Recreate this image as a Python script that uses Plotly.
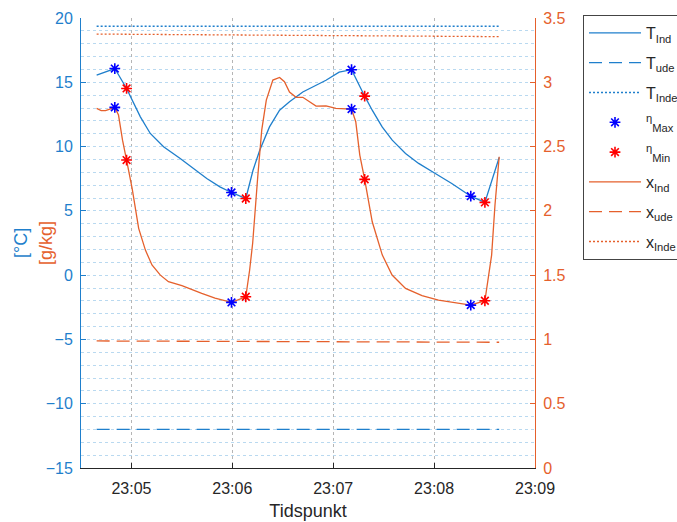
import pandas as pd
import plotly.graph_objects as go

# ---- data (time in seconds after 23:04:00) ----
t_T = [39.3, 44.6, 50.1, 57.1, 61.4, 65.3, 71.2, 79.1, 89.0, 96.8, 104.8, 112.6, 119.5,
       128.0, 132.3, 136.3, 142.1, 148.1, 154.0, 161.9, 167.8, 175.7, 183.5, 190.9,
       198.7, 203.2, 209.1, 215.1, 223.0, 230.8, 240.7, 250.5, 261.8, 270.2, 278.7]
T_ind = [15.55, 15.8, 16.07, 14.52, 13.35, 12.31, 11.02, 9.98, 9.07, 8.30, 7.52, 6.87, 6.43,
         5.96, 8.16, 9.72, 11.53, 12.83, 13.48, 14.25, 14.64, 15.16, 15.79, 15.98,
         13.92, 12.83, 11.53, 10.50, 9.46, 8.69, 7.91, 7.13, 6.14, 5.66, 9.15]

t_x = [39.3, 42.0, 44.6, 50.1, 52.3, 54.7, 57.1, 60.4, 64.3, 68.3, 72.2, 77.2, 82.0,
       90.0, 101.8, 109.7, 119.5, 128.0, 130.3, 132.1, 135.1, 137.5, 140.2, 144.1,
       148.1, 151.0, 154.0, 157.9, 161.9, 165.8, 169.8, 175.7, 181.6, 190.9, 193.4,
       195.8, 198.7, 203.2, 209.2, 215.0, 223.0, 232.8, 242.6, 261.8, 270.2, 274.2,
       276.2, 278.7]
x_ind = [2.797, 2.78, 2.78, 2.805, 2.745, 2.55, 2.395, 2.175, 1.864, 1.695, 1.579, 1.50,
         1.449, 1.418, 1.358, 1.322, 1.288, 1.332, 1.54, 1.75, 2.263, 2.63, 2.862, 3.017,
         3.038, 3.004, 2.924, 2.883, 2.883, 2.848, 2.815, 2.817, 2.797, 2.792, 2.693,
         2.434, 2.245, 1.915, 1.656, 1.501, 1.397, 1.34, 1.306, 1.267, 1.301, 1.656,
         2.045, 2.421]

t_ref = [39.3, 99.0, 159.0, 219.0, 278.7]
T_ude = [-12.0, -12.0, -12.0, -12.0, -12.0]
T_inde = [19.36, 19.36, 19.36, 19.36, 19.36]
x_ude = [0.988, 0.986, 0.983, 0.981, 0.978]
x_inde = [3.375, 3.370, 3.365, 3.360, 3.355]

eta_max_t = [50.1, 119.5, 190.9, 261.8]
eta_max_T = [16.07, 6.43, 15.98, 6.14]
eta_max_x = [2.805, 1.288, 2.792, 1.267]
eta_min_t = [57.1, 128.0, 198.7, 270.2]
eta_min_T = [14.52, 5.96, 13.92, 5.66]
eta_min_x = [2.395, 1.332, 2.245, 1.301]

x_tick_labels = ["23:05", "23:06", "23:07", "23:08", "23:09"]

base = pd.Timestamp("2021-03-01 23:04:00")
def ts(sec):
    return base + pd.to_timedelta(sec, unit="s")

BLUE = "#1f7fcc"
ORANGE = "#e5602c"
DARK = "#262626"
FONT = "Liberation Sans, Arial, sans-serif"

fig = go.Figure()
lw = 1.3
fig.add_trace(go.Scatter(x=ts(t_T), y=T_ind, mode="lines", name="T<sub>Ind</sub>",
                         line=dict(color=BLUE, width=lw), legendgroup="a"))
fig.add_trace(go.Scatter(x=ts(t_ref), y=T_ude, mode="lines", name="T<sub>ude</sub>",
                         line=dict(color=BLUE, width=lw, dash="13px,7px"), legendgroup="b"))
fig.add_trace(go.Scatter(x=ts(t_ref), y=T_inde, mode="lines", name="T<sub>Inde</sub>",
                         line=dict(color=BLUE, width=lw, dash="2px,2px"), legendgroup="c"))
star = dict(symbol="asterisk-open", size=9)
fig.add_trace(go.Scatter(x=ts(eta_max_t), y=eta_max_T, mode="markers",
                         name="<sup>η</sup><sub>Max</sub>",
                         marker=dict(**star, color="blue", line=dict(color="blue", width=1.6)),
                         legendgroup="d"))
fig.add_trace(go.Scatter(x=ts(eta_min_t), y=eta_min_T, mode="markers",
                         name="<sup>η</sup><sub>Min</sub>",
                         marker=dict(**star, color="red", line=dict(color="red", width=1.6)),
                         legendgroup="e"))
fig.add_trace(go.Scatter(x=ts(t_x), y=x_ind, mode="lines", name="x<sub>Ind</sub>", yaxis="y2",
                         line=dict(color=ORANGE, width=lw), legendgroup="f"))
fig.add_trace(go.Scatter(x=ts(t_ref), y=x_ude, mode="lines", name="x<sub>ude</sub>", yaxis="y2",
                         line=dict(color=ORANGE, width=lw, dash="13px,7px"), legendgroup="g"))
fig.add_trace(go.Scatter(x=ts(t_ref), y=x_inde, mode="lines", name="x<sub>Inde</sub>", yaxis="y2",
                         line=dict(color=ORANGE, width=lw, dash="2px,2px"), legendgroup="h"))
fig.add_trace(go.Scatter(x=ts(eta_max_t), y=eta_max_x, mode="markers", yaxis="y2",
                         marker=dict(**star, color="blue", line=dict(color="blue", width=1.6)),
                         legendgroup="d", showlegend=False))
fig.add_trace(go.Scatter(x=ts(eta_min_t), y=eta_min_x, mode="markers", yaxis="y2",
                         marker=dict(**star, color="red", line=dict(color="red", width=1.6)),
                         legendgroup="e", showlegend=False))

tickvals = [ts(60 + 60 * i) for i in range(5)]

fig.update_layout(
    width=677, height=522, autosize=False,
    margin=dict(l=81, r=142, t=18, b=54),
    paper_bgcolor="white", plot_bgcolor="white",
    font=dict(family=FONT, size=16, color=DARK),
    showlegend=True,
    legend=dict(xref="container", yref="container", x=583 / 677, y=1 - 15 / 522,
                xanchor="left", yanchor="top",
                bordercolor="#444444", borderwidth=1, bgcolor="white",
                font=dict(size=16, color=DARK), itemwidth=52,
                traceorder="grouped", tracegroupgap=6),
    xaxis=dict(range=[ts(30), ts(300)], tickvals=tickvals, ticktext=x_tick_labels,
               automargin=False,
               ticks="inside", ticklen=5, tickcolor=DARK, showline=True, linecolor=DARK,
               linewidth=1, showgrid=True, gridcolor="#b5b5b5", griddash="dot", gridwidth=1,
               zeroline=False, tickfont=dict(size=16, color=DARK), ticklabelstandoff=6,
               title=dict(text="Tidspunkt", font=dict(size=18, color=DARK), standoff=8)),
    yaxis=dict(range=[-15, 20], dtick=5, tick0=0, ticks="inside", ticklen=5, tickcolor=BLUE,
               automargin=False,
               showline=True, linecolor=BLUE, linewidth=1, zeroline=False,
               tickfont=dict(size=16, color=BLUE), ticklabelstandoff=4,
               showgrid=True, gridcolor="#b9d9f0", griddash="dot", gridwidth=1,
               minor=dict(dtick=1, showgrid=True, gridcolor="#b9d9f0", griddash="dot",
                          gridwidth=1)),
    yaxis2=dict(range=[0, 3.5], dtick=0.5, tick0=0, overlaying="y", side="right",
                automargin=False,
                ticks="inside", ticklen=5, tickcolor=ORANGE, showline=True,
                linecolor=ORANGE, linewidth=1, zeroline=False, showgrid=False,
                tickfont=dict(size=16, color=ORANGE), ticklabelstandoff=4),
)

fig.add_annotation(text="[°C]", xref="paper", yref="paper", x=-0.132, y=0.5,
                   xanchor="center", yanchor="middle", textangle=-90, showarrow=False,
                   font=dict(size=18, color=BLUE, family=FONT))
fig.add_annotation(text="[g/kg]", xref="paper", yref="paper", x=-0.077, y=0.5,
                   xanchor="center", yanchor="middle", textangle=-90, showarrow=False,
                   font=dict(size=18, color=ORANGE, family=FONT))

post = ("document.body.style.margin='0';document.body.style.padding='0';"
        "document.body.style.overflow='hidden';")
fig.write_html("out.html", config={"responsive": False, "displayModeBar": False},
               post_script=post)
